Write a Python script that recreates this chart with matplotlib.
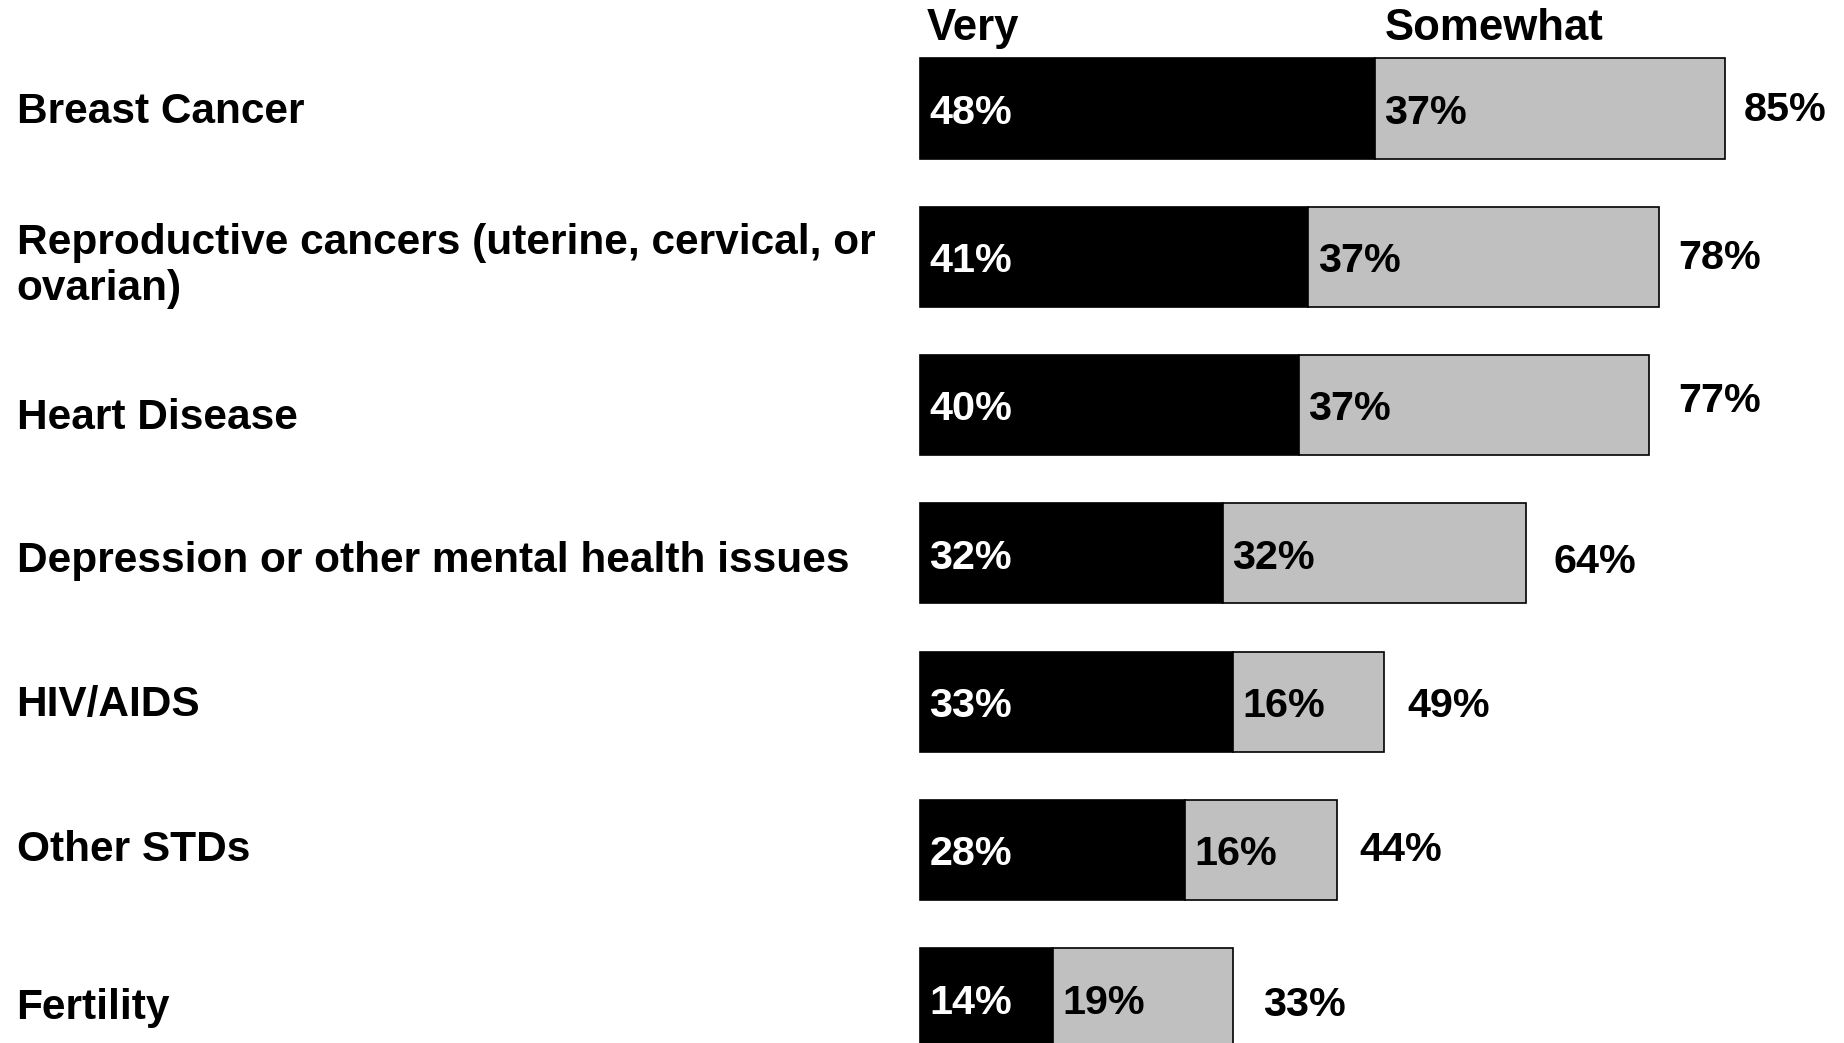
import matplotlib
matplotlib.use("Agg")
import matplotlib.pyplot as plt

categories = ["Breast Cancer",
              "Reproductive cancers (uterine, cervical, or\novarian)",
              "Heart Disease",
              "Depression or other mental health issues",
              "HIV/AIDS",
              "Other STDs",
              "Fertility"]
very = [48, 41, 40, 32, 33, 28, 14]
somewhat = [37, 37, 37, 32, 16, 16, 19]
total = [85, 78, 77, 64, 49, 44, 33]

# layout tweaks (label placement only)
label_dy = [0.024, 0.06, 0.085, 0.05, 0.024, 0.0, 0.07]
total_dx = [2.0, 2.1, 3.1, 2.9, 2.5, 2.4, 3.2]
total_dy = [0.01, 0.01, -0.024, 0.06, 0.03, 0.0, 0.05]

plt.rcParams['font.family'] = ['Liberation Sans', 'DejaVu Sans']
FS_CAT = 30.5
FS_VAL = 29.8
FS_HDR = 31.5

fig = plt.figure(figsize=(18.44, 10.43), dpi=100)
ax = fig.add_axes([0, 0, 1, 1])
ax.set_xlim(-97.15, 97.57)
ax.set_ylim(6.303, -0.732)
ax.axis('off')

y = list(range(len(categories)))
ax.barh(y, very, height=0.675, color='black', edgecolor='black', linewidth=1.2)
ax.barh(y, somewhat, left=very, height=0.675, color='#c0c0c0', edgecolor='black', linewidth=1.2)

for i in y:
    ax.text(1.0, i + 0.03, f"{very[i]}%", color='white', fontsize=FS_VAL, fontweight='bold',
            ha='left', va='center')
    ax.text(very[i] + 1.0, i + 0.03, f"{somewhat[i]}%", color='black', fontsize=FS_VAL,
            fontweight='bold', ha='left', va='center')
    ax.text(total[i] + total_dx[i], i + total_dy[i], f"{total[i]}%", color='black',
            fontsize=FS_VAL, fontweight='bold', ha='left', va='center')
    ax.text(-95.4, i + label_dy[i], categories[i], color='black', fontsize=FS_CAT,
            fontweight='bold', ha='left', va='center', linespacing=1.2)

ax.text(0.75, -0.54, "Very", fontsize=FS_HDR, fontweight='bold', ha='left', va='center')
ax.text(49.1, -0.54, "Somewhat", fontsize=FS_HDR, fontweight='bold', ha='left', va='center')

fig.savefig("out.png", dpi=100)
